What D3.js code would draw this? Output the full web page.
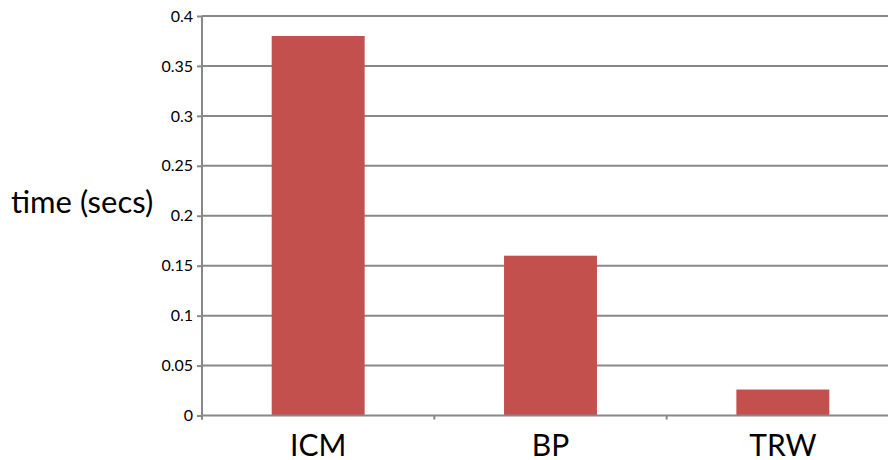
<!DOCTYPE html>
<html>
<head>
<meta charset="utf-8">
<script src="https://cdn.jsdelivr.net/npm/d3@7"></script>
<style>
  html, body { margin: 0; padding: 0; background: #fff; }
  svg { display: block; font-family: "Lato", "Open Sans", sans-serif; }
</style>
</head>
<body>
<svg id="chart" width="888" height="460"></svg>
<script>
// Run time of each inference method
const categories = ["ICM", "BP", "TRW"];
const times = [0.38, 0.16, 0.026];
const yTicks = [0, 0.05, 0.1, 0.15, 0.2, 0.25, 0.3, 0.35, 0.4];
const yTickLabels = ["0", "0.05", "0.1", "0.15", "0.2", "0.25", "0.3", "0.35", "0.4"];
const yTitle = "time (secs)";

const svg = d3.select("#chart");
const W = 888, H = 460;
// the plot area runs slightly past the right edge of the canvas
const plot = { left: 202, right: 899, top: 16, bottom: 415.5 };

const x = d3.scaleBand()
  .domain(categories)
  .range([plot.left, plot.right])
  .paddingInner(0.6)
  .paddingOuter(0.3);

const y = d3.scaleLinear()
  .domain([0, 0.4])
  .range([plot.bottom, plot.top]);

const gridColor = "#888888";

// horizontal gridlines
svg.append("g")
  .selectAll("line")
  .data(yTicks.slice(1))
  .join("line")
  .attr("x1", plot.left)
  .attr("x2", plot.right)
  .attr("y1", d => y(d))
  .attr("y2", d => y(d))
  .attr("stroke", gridColor)
  .attr("stroke-width", 2);

// bars
svg.append("g")
  .selectAll("rect")
  .data(categories)
  .join("rect")
  .attr("x", d => x(d))
  .attr("width", x.bandwidth())
  .attr("y", (d, i) => y(times[i]))
  .attr("height", (d, i) => y(0) - y(times[i]))
  .attr("fill", "#C3504D");

// y axis
const yAxis = svg.append("g")
  .attr("transform", `translate(${plot.left},0)`)
  .call(d3.axisLeft(y).tickValues(yTicks)
    .tickFormat((d, i) => yTickLabels[i])
    .tickSize(5).tickPadding(4));
yAxis.select(".domain").attr("stroke", gridColor).attr("stroke-width", 2)
  .attr("d", `M0,${y(0) + 4}V${y(0.4)}`);
yAxis.selectAll(".tick line").attr("stroke", gridColor).attr("stroke-width", 2);
yAxis.selectAll(".tick text").attr("font-size", 16).attr("fill", "#000")
  .attr("font-family", "Lato, 'Open Sans', sans-serif");

// x axis: baseline with tick marks at category boundaries
const step = (plot.right - plot.left) / categories.length;
const bounds = d3.range(categories.length + 1).map(i => plot.left + i * step);
const xg = svg.append("g");
xg.append("line")
  .attr("x1", plot.left).attr("x2", plot.right)
  .attr("y1", y(0)).attr("y2", y(0))
  .attr("stroke", gridColor).attr("stroke-width", 2);
xg.selectAll("line.tk")
  .data(bounds)
  .join("line")
  .attr("class", "tk")
  .attr("x1", d => d).attr("x2", d => d)
  .attr("y1", y(0)).attr("y2", y(0) + 4)
  .attr("stroke", gridColor).attr("stroke-width", 2);
xg.selectAll("text")
  .data(categories)
  .join("text")
  .attr("x", d => x(d) + x.bandwidth() / 2)
  .attr("y", 455.5)
  .attr("text-anchor", "middle")
  .attr("font-size", 30)
  .attr("fill", "#000")
  .text(d => d);

// y axis title
svg.append("text")
  .attr("x", 11)
  .attr("y", 213)
  .attr("font-size", 31)
  .attr("fill", "#000")
  .text(yTitle);
</script>
</body>
</html>
